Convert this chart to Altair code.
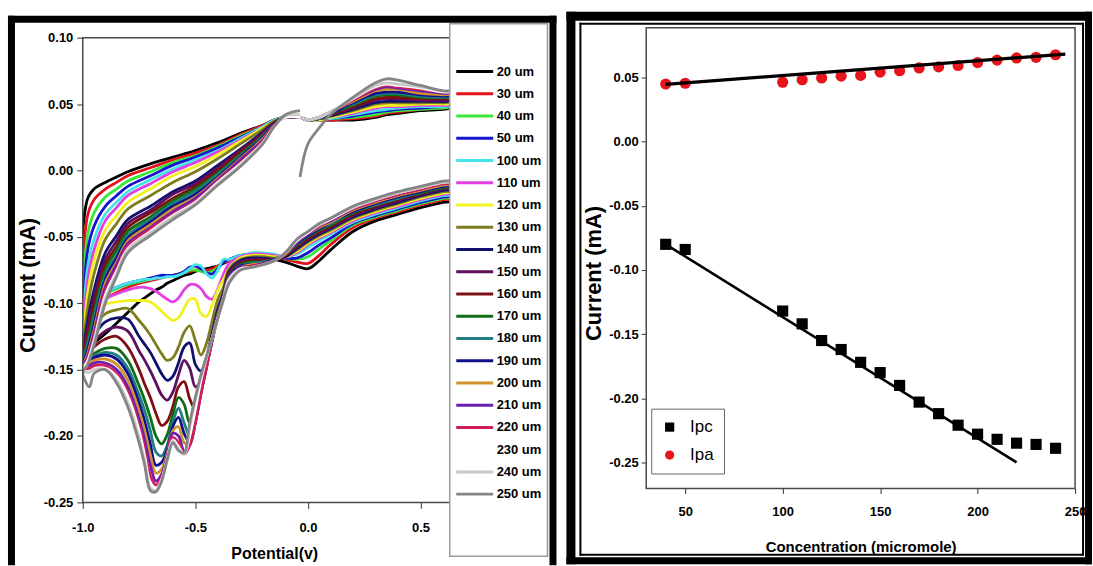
import altair as alt
import pandas as pd

FONT = "'Liberation Sans', Arial, sans-serif"
MINUS_FIX2 = "replace(format(datum.value, '.2f'), '\u2212', '-')"
MINUS_FIX1 = "replace(format(datum.value, '.1f'), '\u2212', '-')"

# ---------------- left panel: cyclic voltammograms ----------------
# scan path: start -> anodic sweep to +0.7 V, cathodic sweep to -1.0 V, return
SEG_A = [-0.035, 0.0, 0.05, 0.1, 0.2, 0.3, 0.35, 0.4, 0.5, 0.6, 0.7]
SEG_B = [0.7, 0.6, 0.5, 0.4, 0.3, 0.2, 0.1, 0.05, 0.0, -0.05, -0.1, -0.15, -0.2, -0.25, -0.3, -0.35,
         -0.375, -0.4, -0.425, -0.45, -0.475, -0.5, -0.525, -0.55, -0.575, -0.6, -0.625, -0.65, -0.675, -0.7, -0.725, -0.75,
         -0.8, -0.85, -0.9, -0.95, -0.97, -1.0]
SEG_C = [-0.98, -0.95, -0.9, -0.85, -0.8, -0.7, -0.6, -0.5, -0.4, -0.3, -0.2, -0.15, -0.1, -0.035]
POTENTIAL = SEG_A + SEG_B + SEG_C

SERIES = ["20 um", "30 um", "40 um", "50 um", "100 um", "110 um", "120 um", "130 um", "140 um", "150 um",
          "160 um", "170 um", "180 um", "190 um", "200 um", "210 um", "220 um", "230 um", "240 um", "250 um"]
COLORS = ["#000000", "#e3121b", "#39e639", "#1515d0", "#45e3ea", "#e23ee2", "#f2f21e", "#7d7d1e", "#10106e", "#5e0f5e",
          "#7e0e10", "#0f6e16", "#1e7f80", "#10108e", "#d1922c", "#6a1fb0", "#d11d5e", "#ffffff", "#c8c8c8", "#858585"]

# currents in units of 0.001 mA, one value per point of POTENTIAL
CUR_20 = [40, 38, 38, 38, 38, 40, 42, 43, 45, 46, 47,
          -21, -24, -28, -33, -38, -46, -60, -68, -74, -72, -69, -67, -66, -66, -66, -68,
          -70, -72, -73, -74, -75, -76, -78, -79, -81, -83, -85, -88, -90, -93, -96, -99,
          -107, -115, -123, -130, -133, -135,
          -22, -14, -9, -5, -1, 5, 10, 15, 21, 28, 34, 38, 40, 40]
CUR_30 = [40, 38, 38, 38, 39, 41, 43, 44, 46, 47, 47,
          -19, -22, -26, -31, -36, -43, -56, -64, -70, -69, -67, -65, -64, -64, -65, -68,
          -69, -72, -74, -75, -75, -75, -76, -77, -78, -79, -80, -81, -82, -83, -84, -85,
          -88, -92, -97, -108, -118, -135,
          -35, -22, -14, -9, -4, 2, 8, 13, 19, 27, 34, 38, 40, 40]
CUR_40 = [40, 38, 38, 39, 40, 42, 44, 45, 46, 47, 47,
          -18, -21, -25, -30, -35, -41, -53, -59, -65, -67, -66, -64, -63, -63, -64, -67,
          -69, -73, -76, -77, -76, -75, -75, -77, -78, -79, -79, -80, -81, -82, -83, -84,
          -86, -89, -94, -106, -118, -138,
          -50, -32, -20, -14, -8, -1, 6, 11, 18, 26, 33, 38, 40, 40]
CUR_50 = [40, 38, 38, 39, 41, 44, 45, 46, 47, 48, 48,
          -17, -20, -24, -29, -34, -40, -51, -56, -62, -66, -66, -64, -63, -63, -64, -67,
          -69, -74, -78, -77, -74, -72, -73, -76, -78, -79, -79, -79, -80, -81, -82, -83,
          -85, -88, -92, -104, -117, -140,
          -62, -42, -27, -19, -12, -4, 4, 10, 17, 25, 33, 38, 40, 40]
CUR_100 = [40, 38, 38, 39, 42, 45, 46, 47, 48, 48, 48,
           -16, -19, -23, -28, -33, -39, -48, -53, -58, -63, -65, -63, -62, -62, -64, -67,
           -67, -75, -81, -78, -72, -71, -74, -77, -79, -80, -80, -81, -81, -82, -82, -83,
           -85, -88, -93, -105, -117, -140,
           -75, -52, -33, -24, -16, -7, 1, 8, 15, 24, 33, 38, 40, 40]
CUR_110 = [40, 38, 38, 40, 43, 47, 48, 48, 49, 49, 49,
           -15, -18, -22, -27, -32, -38, -47, -51, -56, -62, -65, -64, -63, -63, -65, -70,
           -78, -89, -97, -95, -89, -86, -86, -90, -96, -99, -97, -94, -91, -89, -88, -88,
           -90, -93, -97, -108, -119, -141,
           -85, -60, -38, -28, -19, -10, -1, 6, 14, 23, 32, 37, 40, 40]
CUR_120 = [40, 38, 38, 40, 44, 48, 49, 49, 50, 50, 49,
           -14, -17, -21, -26, -31, -37, -46, -50, -55, -61, -65, -65, -64, -64, -66, -74,
           -82, -90, -101, -110, -108, -97, -97, -104, -111, -113, -110, -106, -102, -99, -98, -98,
           -98, -99, -101, -110, -120, -142,
           -95, -68, -45, -34, -24, -14, -4, 3, 12, 22, 32, 37, 40, 40]
CUR_130 = [40, 38, 39, 41, 45, 50, 51, 51, 51, 51, 50,
           -13, -16, -20, -25, -30, -36, -45, -49, -54, -60, -65, -66, -65, -65, -67, -74,
           -88, -97, -113, -130, -139, -128, -117, -122, -133, -141, -143, -138, -131, -124, -118, -113,
           -104, -105, -108, -118, -126, -143,
           -105, -78, -52, -40, -29, -19, -9, -1, 9, 20, 31, 37, 40, 40]
CUR_140 = [40, 38, 39, 41, 46, 51, 52, 52, 52, 52, 51,
           -12, -15, -19, -24, -29, -35, -44, -48, -53, -59, -65, -67, -66, -66, -68, -76,
           -92, -104, -122, -140, -151, -146, -130, -133, -145, -155, -158, -153, -145, -137, -131, -125,
           -112, -111, -114, -124, -130, -144,
           -115, -90, -62, -49, -37, -27, -16, -8, 4, 16, 29, 36, 40, 40]
CUR_150 = [40, 38, 39, 42, 47, 53, 54, 54, 53, 53, 52,
           -11, -14, -18, -23, -28, -34, -43, -47, -52, -58, -64, -67, -67, -67, -69, -77,
           -93, -106, -124, -143, -158, -163, -149, -143, -154, -167, -173, -169, -160, -151, -143, -136,
           -121, -118, -121, -129, -134, -145,
           -120, -96, -67, -53, -40, -30, -18, -10, 2, 15, 28, 36, 40, 40]
CUR_160 = [40, 38, 39, 42, 48, 54, 55, 55, 54, 54, 53,
           -10, -13, -17, -22, -27, -33, -42, -46, -51, -57, -64, -67, -68, -68, -70, -78,
           -94, -107, -125, -144, -163, -180, -172, -159, -163, -178, -189, -192, -183, -171, -161, -150,
           -133, -125, -127, -133, -137, -146,
           -125, -102, -71, -57, -43, -32, -21, -12, 0, 14, 27, 36, 40, 40]
CUR_170 = [40, 38, 39, 43, 49, 56, 57, 57, 55, 55, 54,
           -10, -13, -17, -21, -26, -32, -41, -45, -50, -56, -63, -67, -69, -69, -71, -79,
           -95, -108, -126, -145, -165, -185, -190, -176, -171, -184, -199, -206, -200, -186, -173, -162,
           -143, -134, -134, -138, -141, -146,
           -130, -107, -75, -60, -46, -35, -23, -14, -2, 12, 26, 35, 40, 40]
CUR_180 = [40, 38, 39, 43, 50, 57, 58, 58, 56, 55, 54,
           -9, -12, -16, -21, -26, -31, -40, -44, -49, -55, -63, -67, -69, -70, -72, -80,
           -95, -109, -127, -146, -166, -188, -200, -190, -179, -190, -207, -215, -212, -196, -181, -169,
           -149, -139, -137, -140, -142, -147,
           -133, -112, -79, -64, -49, -37, -25, -16, -3, 11, 26, 35, 40, 40]
CUR_190 = [40, 38, 40, 43, 51, 58, 59, 59, 57, 56, 55,
           -9, -12, -16, -20, -25, -31, -39, -44, -49, -55, -63, -67, -70, -71, -72, -80,
           -96, -110, -128, -147, -167, -189, -205, -198, -186, -193, -210, -220, -222, -206, -189, -175,
           -153, -142, -139, -141, -143, -147,
           -136, -116, -82, -66, -51, -39, -27, -18, -5, 10, 25, 35, 40, 40]
CUR_200 = [40, 38, 40, 44, 52, 60, 61, 61, 58, 57, 56,
           -8, -11, -15, -19, -24, -30, -39, -43, -48, -54, -63, -68, -70, -71, -73, -81,
           -96, -110, -128, -148, -168, -190, -206, -205, -193, -196, -213, -225, -228, -214, -196, -181,
           -158, -146, -142, -143, -145, -148,
           -139, -120, -85, -69, -53, -41, -29, -20, -6, 9, 24, 34, 40, 40]
CUR_210 = [40, 38, 40, 44, 53, 61, 63, 62, 60, 58, 57,
           -7, -10, -14, -18, -23, -29, -38, -42, -48, -54, -62, -68, -70, -72, -73, -81,
           -96, -110, -128, -148, -168, -190, -207, -211, -200, -198, -215, -229, -234, -222, -203, -187,
           -163, -150, -145, -145, -147, -148,
           -141, -123, -88, -71, -55, -43, -31, -21, -7, 8, 23, 34, 40, 40]
CUR_220 = [40, 38, 40, 44, 53, 62, 64, 63, 61, 59, 57,
           -7, -10, -14, -18, -23, -29, -37, -42, -47, -53, -62, -68, -71, -72, -74, -82,
           -97, -111, -127, -148, -168, -190, -207, -214, -205, -201, -216, -231, -237, -230, -210, -192,
           -167, -153, -147, -147, -149, -149,
           -143, -126, -91, -74, -57, -44, -33, -23, -8, 6, 22, 34, 40, 40]
CUR_230 = [40, 38, 40, 44, 54, 63, 65, 64, 62, 59, 58,
           -6, -9, -13, -17, -22, -28, -37, -41, -47, -53, -62, -68, -71, -73, -74, -82,
           -97, -111, -126, -141, -158, -180, -200, -214, -208, -203, -217, -233, -240, -236, -215, -196,
           -170, -155, -149, -150, -152, -150,
           -144, -128, -94, -76, -59, -46, -34, -24, -9, 5, 21, 33, 40, 40]
CUR_240 = [40, 38, 40, 44, 54, 64, 66, 65, 63, 60, 58,
           -6, -9, -13, -17, -22, -28, -36, -41, -46, -52, -62, -68, -71, -73, -75, -83,
           -97, -111, -126, -140, -155, -173, -193, -213, -210, -204, -218, -234, -241, -239, -219, -201,
           -175, -158, -150, -150, -152, -151,
           -146, -130, -97, -78, -60, -47, -35, -25, -10, 4, 21, 33, 41, 42]
CUR_250 = [-5, 20, 32, 42, 55, 66, 69, 68, 64, 60, 58,
           -5, -8, -12, -16, -21, -27, -36, -40, -46, -52, -62, -68, -71, -73, -75, -85,
           -97, -111, -126, -140, -154, -171, -190, -213, -211, -205, -218, -234, -242, -241, -222, -205,
           -178, -160, -150, -153, -163, -152,
           -147, -132, -100, -80, -62, -49, -37, -26, -11, 3, 20, 33, 42, 45]

CURRENTS = [CUR_20, CUR_30, CUR_40, CUR_50, CUR_100, CUR_110, CUR_120, CUR_130, CUR_140, CUR_150,
            CUR_160, CUR_170, CUR_180, CUR_190, CUR_200, CUR_210, CUR_220, CUR_230, CUR_240, CUR_250]

rows = []
for name, cur in zip(SERIES, CURRENTS):
    if len(cur) != len(POTENTIAL):
        raise ValueError(f"{name}: {len(cur)} values, expected {len(POTENTIAL)}")
    for step, (v, c) in enumerate(zip(POTENTIAL, cur)):
        rows.append({"series": name, "potential": v, "current": c / 1000.0, "step": step})
cv_df = pd.DataFrame(rows)

# ---------------- right panel: peak currents ----------------
CONC = [40, 50, 100, 110, 120, 130, 140, 150, 160, 170, 180, 190, 200, 210, 220, 230, 240]
IPC = [-0.080, -0.084, -0.132, -0.142, -0.155, -0.162, -0.172, -0.180, -0.190, -0.203,
       -0.212, -0.221, -0.228, -0.232, -0.235, -0.236, -0.239]
IPA = [0.045, 0.0456, 0.0464, 0.0483, 0.0497, 0.0511, 0.0517, 0.0542, 0.0553, 0.0575,
       0.0583, 0.0594, 0.0617, 0.0636, 0.0653, 0.0658, 0.0678]
IPA_FIT_X = [40, 245]
IPA_FIT_Y = [0.0447, 0.0683]
IPC_FIT_X = [40, 220]
IPC_FIT_Y = [-0.080, -0.250]

pts = pd.DataFrame(
    [{"conc": x, "current": y, "kind": "Ipc"} for x, y in zip(CONC, IPC)]
    + [{"conc": x, "current": y, "kind": "Ipa"} for x, y in zip(CONC, IPA)]
)
ipa_fit = pd.DataFrame({"conc": IPA_FIT_X, "current": IPA_FIT_Y})
ipc_fit = pd.DataFrame({"conc": IPC_FIT_X, "current": IPC_FIT_Y})

one = alt.Data(values=[{"k": 1}])


def bar(x1, x2, y1, y2, color="black"):
    """filled rectangle used for the decorative panel borders (exact bounds, no stroke)"""
    return alt.Chart(one).mark_rect(color=color, opacity=1).encode(
        x=alt.value(x1), x2=alt.value(x2), y=alt.value(y1), y2=alt.value(y2))


FRAME_GREY = "#4a4a4a"

# ---------------- left chart ----------------
LW, LH = 368, 466

left_lines = alt.Chart(cv_df).mark_line(clip=True, strokeWidth=2.8, interpolate="catmull-rom").encode(
    x=alt.X("potential:Q",
            scale=alt.Scale(domain=[-1.0, 0.63], nice=False, zero=False),
            axis=alt.Axis(values=[-1.0, -0.5, 0.0, 0.5], labelExpr=MINUS_FIX1, title="Potential(v)",
                          titleFont=FONT, titleFontSize=16, titleFontWeight="bold", titleColor="black",
                          titleX=192, titleY=51, titleBaseline="middle", titleAlign="center",
                          labelFont=FONT, labelFontSize=13, labelFontWeight="bold", labelColor="black",
                          labelFlush=False, tickSize=6, tickColor="#333", labelPadding=13,
                          domain=False, grid=False)),
    y=alt.Y("current:Q",
            scale=alt.Scale(domain=[-0.25, 0.10], nice=False, zero=False),
            axis=alt.Axis(values=[0.10, 0.05, 0.0, -0.05, -0.10, -0.15, -0.20, -0.25], labelExpr=MINUS_FIX2,
                          title="Current (mA)",
                          titleFont=FONT, titleFontSize=22, titleFontWeight="bold", titleColor="black",
                          titleX=-55, titleY=248, titleBaseline="middle", titleAlign="center", titleAngle=270,
                          labelFont=FONT, labelFontSize=13, labelFontWeight="bold", labelColor="black",
                          labelFlush=False, tickSize=6, tickColor="#333", labelPadding=4,
                          domain=False, grid=False)),
    color=alt.Color("series:N",
                    scale=alt.Scale(domain=SERIES, range=COLORS),
                    legend=alt.Legend(orient="none", legendX=373, legendY=27.5, title=None,
                                      direction="vertical", labelFont=FONT, labelFontSize=13,
                                      labelFontWeight="bold", labelColor="black",
                                      symbolType="M-1,0L6.4,0", symbolSize=100, symbolStrokeWidth=3,
                                      labelOffset=29, rowPadding=8.3, padding=0, labelLimit=0,
                                      symbolLimit=40)),
    order=alt.Order("step:Q"),
)

left_plot_frame = alt.Chart(one).mark_rect(fill="white", fillOpacity=0, stroke=FRAME_GREY, strokeWidth=1.5).encode(
    x=alt.value(0), x2=alt.value("width"), y=alt.value(0), y2=alt.value("height"))
left_legend_box = alt.Chart(one).mark_rect(fill="white", stroke="#9a9a9a", strokeWidth=1.5).encode(
    x=alt.value(368), x2=alt.value(466), y=alt.value(-14), y2=alt.value(520))
left_spacer = alt.Chart(one).mark_rect(opacity=0).encode(
    x=alt.value(0), x2=alt.value(1), y=alt.value(-26), y2=alt.value(-25))

left = alt.layer(
    left_spacer,
    bar(-75, -68, -22, 529), bar(468, 475, -22, 529), bar(-75, 475, -22, -15),
    left_lines, left_plot_frame, left_legend_box,
).properties(width=LW, height=LH)

# ---------------- right chart ----------------
# plot origin is 10 px below the drawn frame top, so the scale starts at the value found there
RW, RH = 430, 452
xs = alt.Scale(domain=[30, 250], nice=False, zero=False)
ys = alt.Scale(domain=[-0.2703, 0.0811], nice=False, zero=False)

legend_r = alt.Legend(orient="none", legendX=5, legendY=372, title=None,
                      labelFont=FONT, labelFontSize=17, labelFontWeight="normal", labelColor="black",
                      symbolSize=85, symbolStrokeWidth=0, labelOffset=12, rowPadding=10, padding=10,
                      strokeColor="#666", fillColor="white")

right_pts = alt.Chart(pts).mark_point(filled=True, size=125, opacity=1).encode(
    x=alt.X("conc:Q", scale=xs,
            axis=alt.Axis(values=[50, 100, 150, 200, 250], format="d", title="Concentration (micromole)",
                          titleFont=FONT, titleFontSize=15, titleFontWeight="bold", titleColor="black",
                          titleX=215, titleY=58, titleBaseline="middle", titleAlign="center",
                          labelFont=FONT, labelFontSize=13, labelFontWeight="bold", labelColor="black",
                          labelFlush=False, tickSize=5, tickColor="#333", labelPadding=12,
                          domain=False, grid=False, zindex=1)),
    y=alt.Y("current:Q", scale=ys,
            axis=alt.Axis(values=[0.05, 0.0, -0.05, -0.10, -0.15, -0.20, -0.25], labelExpr=MINUS_FIX2,
                          title="Current (mA)",
                          titleFont=FONT, titleFontSize=22, titleFontWeight="bold", titleColor="black",
                          titleX=-53, titleY=236, titleBaseline="middle", titleAlign="center", titleAngle=270,
                          labelFont=FONT, labelFontSize=13, labelFontWeight="bold", labelColor="black",
                          labelFlush=False, tickSize=5, tickColor="#333", labelPadding=3,
                          domain=False, grid=False)),
    shape=alt.Shape("kind:N", scale=alt.Scale(domain=["Ipc", "Ipa"], range=["square", "circle"]), legend=legend_r),
    color=alt.Color("kind:N", scale=alt.Scale(domain=["Ipc", "Ipa"], range=["#000000", "#e8141b"]), legend=legend_r),
)

ipa_line = alt.Chart(ipa_fit).mark_line(color="black", strokeWidth=3.2).encode(
    x=alt.X("conc:Q", scale=xs), y=alt.Y("current:Q", scale=ys))
ipc_line = alt.Chart(ipc_fit).mark_line(color="black", strokeWidth=2.6).encode(
    x=alt.X("conc:Q", scale=xs), y=alt.Y("current:Q", scale=ys))

right_plot_frame = alt.Chart(one).mark_rect(fill="white", fillOpacity=0, stroke=FRAME_GREY, strokeWidth=1.5).encode(
    x=alt.value(0), x2=alt.value("width"), y=alt.value(-10), y2=alt.value("height"))

right = alt.layer(
    # thick outer border
    bar(-80, -71, -26, 528), bar(440, 447, -26, 528), bar(-80, 447, -26, -17), bar(-80, 447, 521, 528),
    # thin inner border
    bar(-67, -65, -15, 519.5), bar(437, 439, -15, 519.5), bar(-67, 439, -15, -13), bar(-67, 439, 517.5, 519.5),
    right_plot_frame, right_pts, ipa_line, ipc_line,
).properties(width=RW, height=RH)

chart = alt.hconcat(left, right, spacing=8).resolve_scale(
    color="independent", shape="independent"
).resolve_legend(
    color="independent", shape="independent"
).properties(
    padding={"left": 7, "top": 10, "right": 0, "bottom": 0},
    background="white",
).configure_view(stroke="transparent")

chart.save("out.html", embed_options={"renderer": "svg", "actions": False})
